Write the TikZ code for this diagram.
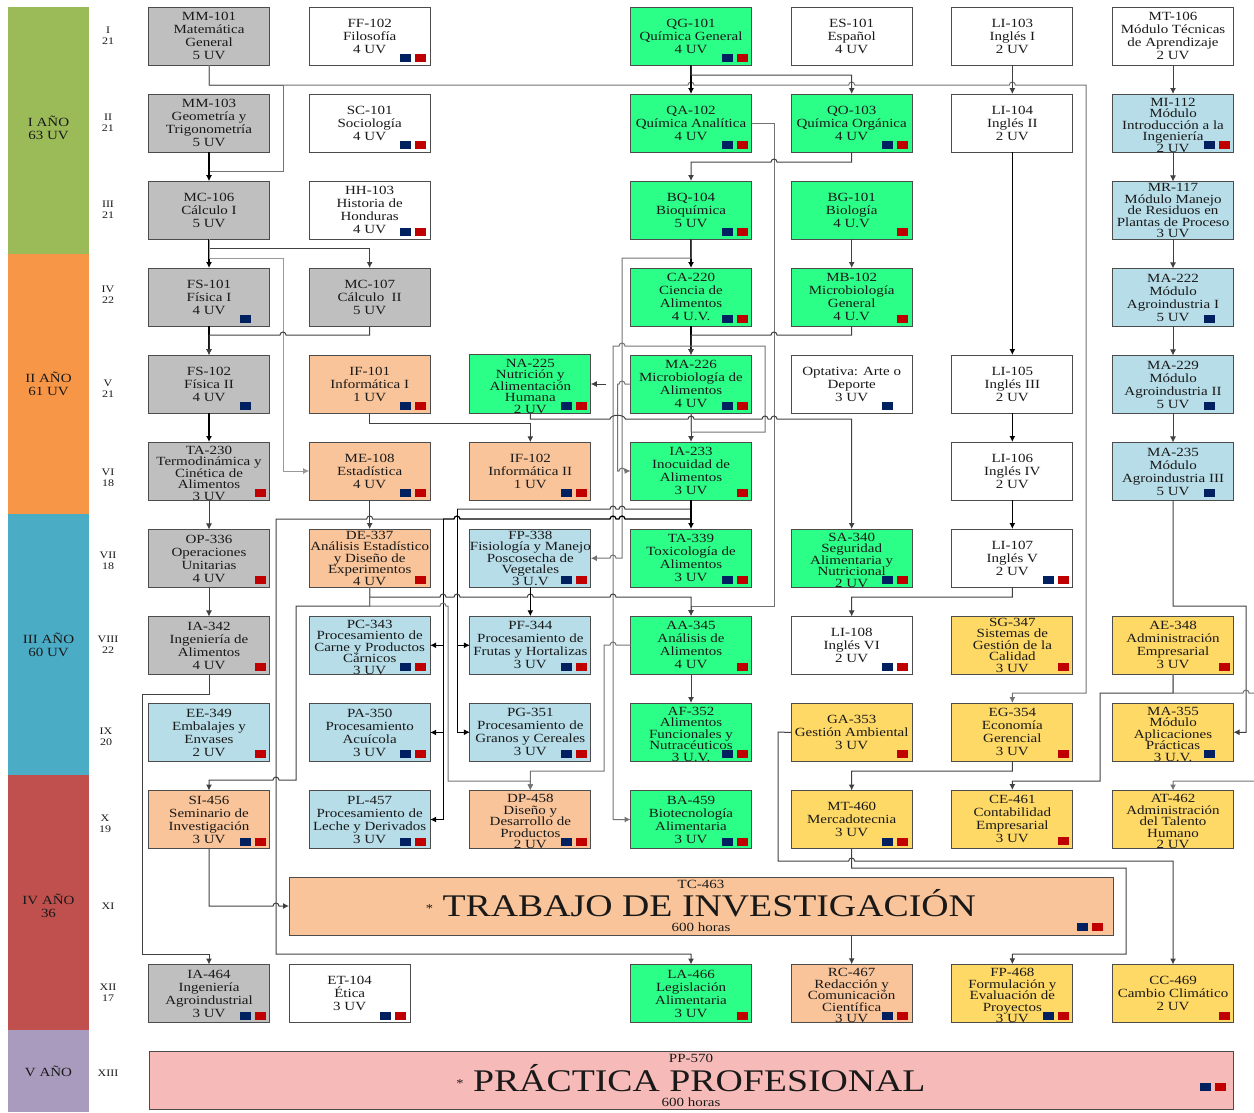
\documentclass[tikz,border=0pt]{standalone}
\usepackage{fontspec}
\setmainfont{Liberation Serif}[FakeStretch=1.2]
\usetikzlibrary{positioning, arrows.meta}

\definecolor{graycourse}{HTML}{BFBFBF}
\definecolor{greencourse}{HTML}{2CFF87}
\definecolor{peachcourse}{HTML}{F9C499}
\definecolor{bluecourse}{HTML}{B7DDE8}
\definecolor{yellowcourse}{HTML}{FFD966}
\definecolor{pinkcourse}{HTML}{F6BBB8}
\definecolor{flagnavy}{HTML}{002060}
\definecolor{flagred}{HTML}{C00000}
\definecolor{yearone}{HTML}{9BBB59}
\definecolor{yeartwo}{HTML}{F79646}
\definecolor{yearthree}{HTML}{4BACC6}
\definecolor{yearfour}{HTML}{C0504D}
\definecolor{yearfive}{HTML}{A99BBD}

\newcommand{\coursefont}{\fontsize{12.5}{13}\selectfont}
\newcommand{\tightfont}{\fontsize{12.5}{11.5}\selectfont}
\newcommand{\bigfont}{\fontsize{31.5}{31.5}\selectfont}
\newcommand{\lowered}{\rule{0pt}{12.3pt}}
\newcommand{\midstar}{\raisebox{4pt}{\fontsize{12}{12}\selectfont *}}

\tikzset{
    course/.style={draw=black!70, line width=1pt, minimum width=121pt, minimum height=58pt, inner sep=0pt, outer sep=0pt, align=center, font=\coursefont, text=black!90},
    tight/.style={font=\tightfont},
    graybox/.style={course, fill=graycourse},
    greenbox/.style={course, fill=greencourse},
    peachbox/.style={course, fill=peachcourse},
    bluebox/.style={course, fill=bluecourse},
    yellowbox/.style={course, fill=yellowcourse},
    whitebox/.style={course, fill=white},
    yearbox/.style={minimum width=81pt, inner sep=0pt, outer sep=0pt, align=center, font=\coursefont, text=black!90},
    yearlabel/.style={inner sep=0pt, align=center, font=\coursefont, text=black!90},
    semlabel/.style={align=center, inner sep=0pt, font=\fontsize{10}{11}\selectfont, text=black!90},
    flagbox/.style={minimum width=11pt, minimum height=8pt, inner sep=0pt, outer sep=0pt, anchor=south east},
    link/.style={-{Latex[length=6pt,width=6pt]}, draw=black!75, line width=1pt},
    linkdark/.style={-{Latex[length=6pt,width=6pt]}, draw=black, line width=1.2pt},
    linkgray/.style={-{Latex[length=6pt,width=6pt]}, draw=black!55, line width=1pt},
    linklight/.style={-{Latex[length=6pt,width=6pt]}, draw=black!40, line width=1pt},
}

\newcommand{\flagblue}[1]{\node[flagbox, fill=flagnavy] (#1blue) at ([shift={(-19pt,3pt)}]#1.south east) {};}
\newcommand{\flagred}[1]{\node[flagbox, fill=flagred] (#1red) at ([shift={(-4pt,3pt)}]#1.south east) {};}
\newcommand{\flagboth}[1]{\flagblue{#1}\flagred{#1}}
\newcommand{\hopr}[2]{-- (#1-3,#2) arc[start angle=180, end angle=0, radius=3pt]}
\newcommand{\hopl}[2]{-- (#1+3,#2) arc[start angle=0, end angle=180, radius=3pt]}

\begin{document}
\begin{tikzpicture}[x=1pt, y=-1pt, node distance=29pt and 39.67pt]
    \useasboundingbox (0,0) rectangle (1254,1112);

    % Years
    \node[yearbox, fill=yearone, minimum height=247pt] (year1) at (48.5,130.5) {};
    \node[yearbox, fill=yeartwo, minimum height=260pt, below=0pt of year1] (year2) {II AÑO\\61 UV};
    \node[yearbox, fill=yearthree, minimum height=261pt, below=0pt of year2] (year3) {III AÑO\\60 UV};
    \node[yearbox, fill=yearfour, minimum height=255pt, below=0pt of year3] (year4) {};
    \node[yearbox, fill=yearfive, minimum height=82pt, below=0pt of year4] (year5) {V AÑO};
    \node[yearlabel] (year1text) at (48.5,127.5) {I AÑO\\63 UV};
    \node[yearlabel] (year4text) at (48.5,905.5) {IV AÑO\\36};

    % Semesters
    \node[semlabel] (sem1) at (108,36) {I\\21};
    \node[semlabel] (sem2) at (108,123) {II\\21};
    \node[semlabel] (sem3) at (108,210) {III\\21};
    \node[semlabel] (sem4) at (108,295) {IV\\22};
    \node[semlabel] (sem5) at (108,389) {V\\21};
    \node[semlabel] (sem6) at (108,478) {VI\\18};
    \node[semlabel] (sem7) at (108,561) {VII\\18};
    \node[semlabel] (sem8) at (108,645) {VIII\\22};
    \node[semlabel] (sem9) at (106,737) {IX\\20};
    \node[semlabel] (sem10) at (105,824) {X\\19};
    \node[semlabel] (sem11) at (108,906) {XI};
    \node[semlabel] (sem12) at (108,993) {XII\\17};
    \node[semlabel] (sem13) at (108,1073) {XIII};

    % First row
    \node[graybox] (mm101) at (209,36) {MM-101\\Matemática\\General\\5 UV};
    \node[whitebox, right=of mm101] (ff102) {FF-102\\Filosofía\\4 UV};
    \node[greenbox, right=200.34pt of ff102] (qg101) {QG-101\\Química General\\4 UV};
    \node[whitebox, right=of qg101] (es101) {ES-101\\Español\\4 UV};
    \node[whitebox, right=of es101] (li103) {LI-103\\Inglés I\\2 UV};
    \node[whitebox, right=of li103] (mt106) {MT-106\\Módulo Técnicas\\de Aprendizaje\\2 UV};

    % Second row
    \node[graybox, below=of mm101] (mm103) {MM-103\\Geometría y\\Trigonometría\\5 UV};
    \node[whitebox, below=of ff102] (sc101) {SC-101\\Sociología\\4 UV};
    \node[greenbox, below=of qg101] (qa102) {QA-102\\Química Analítica\\4 UV};
    \node[greenbox, below=of es101] (qo103) {QO-103\\Química Orgánica\\4 UV};
    \node[whitebox, below=of li103] (li104) {LI-104\\Inglés II\\2 UV};
    \node[bluebox, tight, below=of mt106] (mi112) {\lowered MI-112\\Módulo\\Introducción a la\\Ingeniería\\2 UV};

    % Third row
    \node[graybox, below=of mm103] (mc106) {MC-106\\Cálculo I\\5 UV};
    \node[whitebox, below=of sc101] (hh103) {HH-103\\Historia de\\Honduras\\4 UV};
    \node[greenbox, below=of qa102] (bq104) {BQ-104\\Bioquímica\\5 UV};
    \node[greenbox, below=of qo103] (bg101) {BG-101\\Biología\\4 U.V};
    \node[bluebox, tight, below=of mi112] (mr117) {MR-117\\Módulo Manejo\\de Residuos en\\Plantas de Proceso\\3 UV};

    % Fourth row
    \node[graybox, below=of mc106] (fs101) {FS-101\\Física I\\4 UV};
    \node[graybox, below=of hh103] (mc107) {MC-107\\Cálculo~~II\\5 UV};
    \node[greenbox, below=of bq104] (ca220) {CA-220\\Ciencia de\\Alimentos\\4 U.V.};
    \node[greenbox, below=of bg101] (mb102) {MB-102\\Microbiología\\General\\4 U.V};
    \node[bluebox, below=of mr117] (ma222) {MA-222\\Módulo\\Agroindustria I\\5 UV};

    % Fifth row
    \node[graybox, below=of fs101] (fs102) {FS-102\\Física II\\4 UV};
    \node[peachbox, below=of mc107] (if101) {IF-101\\Informática I\\1 UV};
    \node[greenbox, tight, left=of ca220, yshift=-87pt] (na225) {\lowered NA-225\\Nutrición y\\Alimentación\\Humana\\2 UV};
    \node[greenbox, below=of ca220] (ma226) {MA-226\\Microbiología de\\Alimentos\\4 UV};
    \node[whitebox, below=of mb102] (optativa) {Optativa: Arte o\\Deporte\\3 UV};
    \node[whitebox, below=203pt of li104] (li105) {LI-105\\Inglés III\\2 UV};
    \node[bluebox, below=of ma222] (ma229) {MA-229\\Módulo\\Agroindustria II\\5 UV};

    % Sixth row
    \node[graybox, tight, below=of fs102] (ta230) {\lowered TA-230\\Termodinámica y\\Cinética de\\Alimentos\\3 UV};
    \node[peachbox, below=of if101] (me108) {ME-108\\Estadística\\4 UV};
    \node[peachbox, below=of na225] (if102) {IF-102\\Informática II\\1 UV};
    \node[greenbox, below=of ma226] (ia233) {IA-233\\Inocuidad de\\Alimentos\\3 UV};
    \node[whitebox, below=of li105] (li106) {LI-106\\Inglés IV\\2 UV};
    \node[bluebox, below=of ma229] (ma235) {MA-235\\Módulo\\Agroindustria III\\5 UV};

    % Seventh row
    \node[graybox, below=of ta230] (op336) {OP-336\\Operaciones\\Unitarias\\4 UV};
    \node[peachbox, tight, below=of me108] (de337) {DE-337\\Análisis Estadístico\\y Diseño de\\Experimentos\\4 UV};
    \node[bluebox, tight, below=of if102] (fp338) {FP-338\\Fisiología y Manejo\\Poscosecha de\\Vegetales\\3 U.V};
    \node[greenbox, below=of ia233] (ta339) {TA-339\\Toxicología de\\Alimentos\\3 UV};
    \node[greenbox, tight, below=116pt of optativa] (sa340) {\lowered SA-340\\Seguridad\\Alimentaria y\\Nutricional\\2 UV};
    \node[whitebox, below=of li106] (li107) {LI-107\\Inglés V\\2 UV};

    % Eighth row
    \node[graybox, below=of op336] (ia342) {IA-342\\Ingeniería de\\Alimentos\\4 UV};
    \node[bluebox, tight, below=of de337] (pc343) {\lowered PC-343\\Procesamiento de\\Carne y Productos\\Cárnicos\\3 UV};
    \node[bluebox, below=of fp338] (pf344) {PF-344\\Procesamiento de\\Frutas y Hortalizas\\3 UV};
    \node[greenbox, below=of ta339] (aa345) {AA-345\\Análisis de\\Alimentos\\4 UV};
    \node[whitebox, below=of sa340] (li108) {LI-108\\Inglés VI\\2 UV};
    \node[yellowbox, tight, below=of li107] (sg347) {SG-347\\Sistemas de\\Gestión de la\\Calidad\\3 UV};
    \node[yellowbox, right=of sg347] (ae348) {AE-348\\Administración\\Empresarial\\3 UV};

    % Ninth row
    \node[bluebox, below=of ia342] (ee349) {EE-349\\Embalajes y\\Envases\\2 UV};
    \node[bluebox, below=of pc343] (pa350) {PA-350\\Procesamiento\\Acuícola\\3 UV};
    \node[bluebox, below=of pf344] (pg351) {PG-351\\Procesamiento de\\Granos y Cereales\\3 UV};
    \node[greenbox, tight, below=of aa345] (af352) {\lowered AF-352\\Alimentos\\Funcionales y\\Nutracéuticos\\3 U.V.};
    \node[yellowbox, below=of li108] (ga353) {GA-353\\Gestión Ambiental\\3 UV};
    \node[yellowbox, below=of sg347] (eg354) {EG-354\\Economía\\Gerencial\\3 UV};
    \node[yellowbox, tight, below=of ae348] (ma355) {\lowered MA-355\\Módulo\\Aplicaciones\\Prácticas\\3 U.V.};

    % Tenth row
    \node[peachbox, below=of ee349] (si456) {SI-456\\Seminario de\\Investigación\\3 UV};
    \node[bluebox, below=of pa350] (pl457) {PL-457\\Procesamiento de\\Leche y Derivados\\3 UV};
    \node[peachbox, tight, below=of pg351] (dp458) {\lowered DP-458\\Diseño y\\Desarrollo de\\Productos\\2 UV};
    \node[greenbox, below=of af352] (ba459) {BA-459\\Biotecnología\\Alimentaria\\3 UV};
    \node[yellowbox, below=of ga353] (mt460) {MT-460\\Mercadotecnia\\3 UV};
    \node[yellowbox, below=of eg354] (ce461) {CE-461\\Contabilidad\\Empresarial\\3 UV};
    \node[yellowbox, tight, below=of ma355] (at462) {\lowered AT-462\\Administración\\del Talento\\Humano\\2 UV};

    % Thesis row
    \node[peachbox, minimum width=824pt] (tc463) at (701,906) {TC-463\\[0pt]{\bigfont\midstar{} TRABAJO DE INVESTIGACIÓN}\\[2pt]600 horas};

    % Last course row
    \node[graybox, below=116pt of si456] (ia464) {IA-464\\Ingeniería\\Agroindustrial\\3 UV};
    \node[whitebox, right=of ia464, xshift=-20pt] (et104) {ET-104\\Ética\\3 UV};
    \node[greenbox, below=116pt of ba459] (la466) {LA-466\\Legislación\\Alimentaria\\3 UV};
    \node[peachbox, tight, right=of la466] (rc467) {\lowered RC-467\\Redacción y\\Comunicación\\Científica\\3 UV};
    \node[yellowbox, tight, right=of rc467] (fp468) {\lowered FP-468\\Formulación y\\Evaluación de\\Proyectos\\3 UV};
    \node[yellowbox, right=of fp468] (cc469) {CC-469\\Cambio Climático\\2 UV};

    % Practice row
    \node[course, fill=pinkcourse, minimum width=1084pt] (pp570) at (691,1080) {PP-570\\[1pt]{\bigfont\midstar{} PRÁCTICA PROFESIONAL}\\[2pt]600 horas};

    % Flags
    \flagboth{ff102} \flagboth{qg101}
    \flagboth{sc101} \flagboth{qa102} \flagboth{qo103} \flagboth{mi112}
    \flagboth{hh103} \flagboth{bq104} \flagred{bg101}
    \flagblue{fs101} \flagboth{ca220} \flagred{mb102} \flagblue{ma222}
    \flagblue{fs102} \flagboth{if101} \flagboth{na225} \flagboth{ma226} \flagblue{optativa} \flagblue{ma229}
    \flagred{ta230} \flagboth{me108} \flagboth{if102} \flagred{ia233} \flagblue{ma235}
    \flagred{op336} \flagred{de337} \flagboth{fp338} \flagboth{ta339} \flagboth{sa340} \flagboth{li107}
    \flagred{ia342} \flagboth{pc343} \flagboth{pf344} \flagred{aa345} \flagboth{li108} \flagred{sg347} \flagred{ae348}
    \flagred{ee349} \flagboth{pa350} \flagboth{pg351} \flagboth{af352} \flagred{ga353} \flagred{eg354} \flagblue{ma355}
    \flagboth{si456} \flagboth{pl457} \flagboth{dp458} \flagboth{ba459} \flagboth{mt460} \flagred{ce461}
    \flagboth{ia464} \flagboth{et104} \flagred{la466} \flagboth{rc467} \flagboth{fp468} \flagred{cc469}
    \node[flagbox, fill=flagnavy] (tc463blue) at ([shift={(-25pt,4pt)}]tc463.south east) {};
    \node[flagbox, fill=flagred] (tc463red) at ([shift={(-10pt,4pt)}]tc463.south east) {};
    \node[flagbox, fill=flagnavy] (pp570blue) at ([shift={(-22pt,18pt)}]pp570.south east) {};
    \node[flagbox, fill=flagred] (pp570red) at ([shift={(-7pt,18pt)}]pp570.south east) {};

    % Arrows, first column
    \draw[linkgray] (mm101.south) -- (209,85) -- (283,85) -- (283,171) -| (mc106.north);
    \draw[linkgray] (mm101.south) -- (209,85) \hopr{691}{85} \hopr{851.67}{85} \hopr{1012.33}{85} -- (1086,85) -- (1086,693) -| (eg354.north);
    \draw[linkdark] (mm103) -- (mc106);
    \draw[linkdark] (mc106) -- (fs101);
    \draw[link] (mc106.south) -- (209,248) -| (mc107.north);
    \draw[linklight] (mc106.south) -- (209,258) -- (283,258) |- (me108.west);
    \draw[linkdark] (fs101) -- (fs102);
    \draw[link] (mc107.south) -- (369.67,335) \hopl{283}{335} -| (fs102.north);
    \draw[linkdark] (fs102) -- (ta230);
    \draw[link] (ta230) -- (op336);
    \draw[link] (op336) -- (ia342);
    \draw[link] (ia342.south) -- (209,694) -- (142,694) -- (142,954) -| (ia464.north);
    \draw[link] (si456.south) -- (209,906) \hopr{276}{906} -- (tc463.west);

    % Arrows, chemistry
    \draw[linkdark] (qg101) -- (qa102);
    \draw[link] (qg101.south) -- (691,75) -| (qo103.north);
    \draw[linkgray] (qa102.east) -| (774,606) -| (aa345.north);
    \draw[link] (qo103.south) -- (851.67,162) \hopl{774}{162} -| (bq104.north);
    \draw[linkdark] (bq104) -- (ca220);
    \draw[linkgray] (bq104.south) -- (691,258) -- (622,258) -- (622,558) \hopl{613}{558} -- (fp338.east);
    \draw[link] (bg101) -- (mb102);
    \draw[linkdark] (ca220) -- (ma226);
    \draw[link] (mb102.south) -- (851.67,335) \hopl{774}{335} -| (ma226.north);

    % Arrows, food
    \draw[link] (ma226) -- (ia233);
    \draw[linkgray] (ma226.south) -- (691,432) -- (765,432) -- (765,346) \hopl{622}{346} -- (613,346) |- (ba459.west);
    \draw[linkgray] (ma226.west) \hopl{622}{384} -- (617.7,384) -- (617.7,471) \hopr{622}{471} -- (ia233.west);
    \coordinate (na225in) at (606,384);
    \draw[link] (na225in) -- (na225.east);
    \draw[link] (na225.south) -- (530.33,419) -- (610,419) .. controls (611,414) and (624,414) .. (625.4,419) \hopr{691}{419} \hopr{765}{419} \hopr{774}{419} -| (sa340.north);
    \draw[link] (if101.south) -- (369.67,423) -| (if102.north);
    \draw[link] (me108) -- (de337);
    \coordinate (ia233left) at (443,519);
    \coordinate (ia233right) at (457,509);
    \draw[linkdark, -] (ia233.south) -- (691,519) \hopl{622}{519} \hopl{613}{519} \hopl{457}{519} -- (ia233left);
    \draw[link, black] (ia233left) |- (pc343.east);
    \draw[link, black] (ia233left) |- (pa350.east);
    \draw[link, black] (ia233left) |- (pl457.east);
    \draw[link] (ia233left) \hopl{369.67}{519} -- (276,519) -- (276,954) -| (la466.north);
    \draw[link, -] (ia233.south) -- (691,509) \hopl{622}{509} \hopl{613}{509} -- (ia233right);
    \draw[link, black] (ia233right) |- (pf344.west);
    \draw[link, black] (ia233right) |- (pg351.west);
    \draw[linkdark] (ia233) -- (ta339);
    \draw[link] (de337.south) -- (369.67,597) \hopr{443}{597} \hopr{457}{597} \hopr{530.33}{597} \hopr{613}{597} -| (aa345.north);
    \draw[link] (de337.south) -- (369.67,606) -- (296,606) -- (296,780) \hopl{276}{780} -| (si456.north);
    \draw[linkgray] (de337.south) -- (369.67,606) \hopr{443}{606} -- (448,606) -- (448,781) -| (dp458.north);
    \draw[linkdark] (fp338) -- (pf344);
    \draw[link] (aa345) -- (af352);
    \draw[linkgray] (aa345.west) \hopl{613}{645} -- (604,645) -- (604,771) -| (dp458.north);

    % Arrows, languages and modules
    \draw[link] (li103) -- (li104);
    \draw[linkdark] (li104) -- (li105);
    \draw[linkdark] (li105) -- (li106);
    \draw[linkdark] (li106) -- (li107);
    \draw[link] (li107.south) -- (1012.33,597) -| (li108.north);
    \draw[link] (mt106) -- (mi112);
    \draw[link] (mi112) -- (mr117);
    \draw[link] (mr117) -- (ma222);
    \draw[link] (ma222) -- (ma229);
    \draw[link] (ma229) -- (ma235);
    \draw[link] (ma235.south) -- (1173,606) -- (1246,606) |- (ma355.east);

    % Arrows, management
    \draw[link] (ae348.south) -- (1173,693) -- (1100,693) -- (1100,781) -| (ce461.north);
    \draw[linkgray] (ae348.south) -- (1173,693) \hopr{1246}{693} -- (1256,693) -- (1256,781) -| (at462.north);
    \draw[link] (ga353.west) -- (778,732) -- (778,861) \hopr{851.67}{861} -| (cc469.north);
    \draw[link] (eg354.south) -- (1012.33,771) -| (mt460.north);
    \draw[link] (mt460.south) -- (851.67,868) -- (1126,868) -- (1126,954) -| (fp468.north);
    \draw[link] (rc467.north |- tc463.south) -- (rc467.north);
\end{tikzpicture}
\end{document}
